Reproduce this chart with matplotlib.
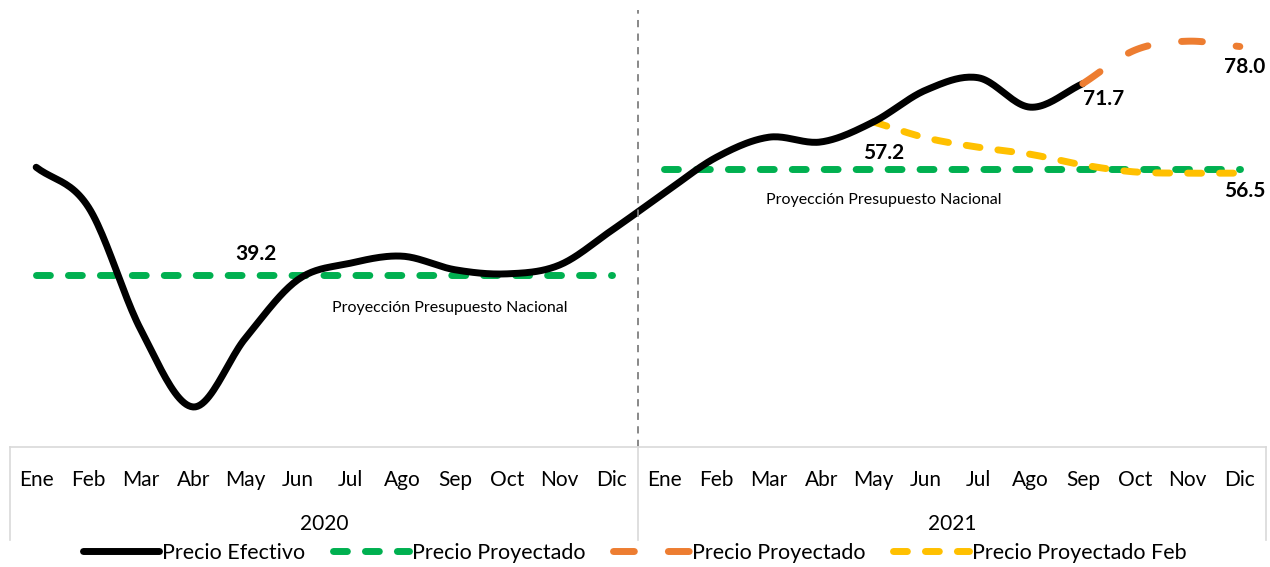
import numpy as np
import matplotlib
matplotlib.use('Agg')
import matplotlib.pyplot as plt
from matplotlib.lines import Line2D

plt.rcParams['font.family'] = ['Lato', 'DejaVu Sans']

meses = ['Ene', 'Feb', 'Mar', 'Abr', 'May', 'Jun', 'Jul', 'Ago', 'Sep', 'Oct', 'Nov', 'Dic']
anios = ['2020', '2021']

# Precio efectivo, Ene 2020 .. Sep 2021
efectivo = [57.5, 50.7, 29.9, 16.8, 28.5, 38.4, 41.2, 42.4, 40.1, 39.4, 40.9, 46.8,
            53.1, 59.2, 62.6, 61.8, 65.2, 70.6, 72.7, 67.7, 71.7]
# presupuesto nacional por año
presupuesto_2020 = 39.2
presupuesto_2021 = 57.2
# precio proyectado Sep..Dic 2021
proyectado = [71.7, 77.4, 78.9, 78.0]
# precio proyectado Feb, May..Dic 2021
proyectado_feb = [65.2, 62.5, 60.9, 59.7, 57.9, 56.7, 56.5, 56.5]


def suave(x, y, n=24):
    # curva suavizada tipo Excel (Catmull-Rom)
    x = np.asarray(x, float)
    y = np.asarray(y, float)
    px = np.concatenate([[2 * x[0] - x[1]], x, [2 * x[-1] - x[-2]]])
    py = np.concatenate([[2 * y[0] - y[1]], y, [2 * y[-1] - y[-2]]])
    xs, ys = [], []
    t = np.linspace(0, 1, n)
    for i in range(1, len(px) - 2):
        for p, out in ((px, xs), (py, ys)):
            p0, p1, p2, p3 = p[i - 1], p[i], p[i + 1], p[i + 2]
            b1 = p1 + (p2 - p0) / 6
            b2 = p2 - (p3 - p1) / 6
            out.extend((1 - t) ** 3 * p1 + 3 * (1 - t) ** 2 * t * b1 + 3 * (1 - t) * t ** 2 * b2 + t ** 3 * p2)
    return np.array(xs), np.array(ys)


fig = plt.figure(figsize=(12.7, 5.67), dpi=100)
ax = fig.add_axes([10 / 1270, 120 / 567, 1256 / 1270, 437 / 567])
ax.set_xlim(-0.5, 23.5)
ax.set_ylim(10, 84.2)
ax.axis('off')

verde = '#00b050'
naranja = '#ed7d31'
amarillo = '#ffc000'
lw = 5

# presupuesto
ax.plot([0, 11], [presupuesto_2020] * 2, color=verde, lw=lw, dashes=(2.0, 2.6),
        dash_capstyle='round', solid_capstyle='round')
ax.plot([12, 23], [presupuesto_2021] * 2, color=verde, lw=lw, dashes=(2.0, 2.6),
        dash_capstyle='round', solid_capstyle='round')

# proyeccion feb
xs, ys = suave(range(16, 24), proyectado_feb)
ax.plot(xs, ys, color=amarillo, lw=lw, dashes=(2.0, 2.6), dash_capstyle='round')

# efectivo
xs, ys = suave(range(len(efectivo)), efectivo)
ax.plot(xs, ys, color='black', lw=lw, solid_capstyle='round')

# proyectado
xs, ys = suave(range(20, 24), proyectado)
ax.plot(xs, ys, color=naranja, lw=lw, dashes=(3.0, 4.9), dash_capstyle='round')

# separador de años
ax.plot([11.5, 11.5], [10, 84.2], color='#7f7f7f', lw=1.3, dashes=(4, 3.5), clip_on=False)

# etiquetas de valores
kw = dict(fontsize=15, fontweight='bold', ha='center', va='center')
ax.text(4.2, presupuesto_2020 + 3.6, '39.2', **kw)
ax.text(16.2, presupuesto_2021 + 2.7, '57.2', **kw)
ax.text(20.4, efectivo[-1] - 2.6, '71.7', **kw)
ax.text(23.1, proyectado[-1] - 3.5, '78.0', **kw)
ax.text(23.1, proyectado_feb[-1] - 3.1, '56.5', **kw)

kw = dict(fontsize=11.5, ha='center', va='center')
ax.text(7.9, presupuesto_2020 - 5.6, 'Proyección Presupuesto Nacional', **kw)
ax.text(16.2, presupuesto_2021 - 5.3, 'Proyección Presupuesto Nacional', **kw)

# eje de categorias
gris = '#d9d9d9'
fig.add_artist(Line2D([10 / 1270, 1266 / 1270], [120 / 567] * 2, color=gris, lw=1.2))
for xp in (10, 638, 1266):
    fig.add_artist(Line2D([xp / 1270] * 2, [27 / 567, 120 / 567], color=gris, lw=1.2))

tr = ax.get_xaxis_transform()
for a in range(2):
    for m, mes in enumerate(meses):
        ax.text(a * 12 + m, -0.075, mes, transform=tr, ha='center', va='center', fontsize=15)
    ax.text(a * 12 + 5.5, -0.177, anios[a], transform=tr, ha='center', va='center', fontsize=15)

# leyenda
handles = [
    Line2D([], [], color='black', lw=lw, solid_capstyle='round'),
    Line2D([], [], color=verde, lw=lw, dashes=(2.0, 2.6), dash_capstyle='round'),
    Line2D([], [], color=naranja, lw=lw, dashes=(3.0, 4.9), dash_capstyle='round'),
    Line2D([], [], color=amarillo, lw=lw, dashes=(2.0, 2.6), dash_capstyle='round'),
]
labels = ['Precio Efectivo', 'Precio Proyectado', 'Precio Proyectado', 'Precio Proyectado Feb']
fig.legend(handles, labels, loc='center', bbox_to_anchor=(0.5, 0.025), ncol=4,
           frameon=False, fontsize=15.5, handlelength=3.5, handletextpad=0.15,
           columnspacing=1.3, borderpad=0)

fig.savefig('out.png', dpi=100)
